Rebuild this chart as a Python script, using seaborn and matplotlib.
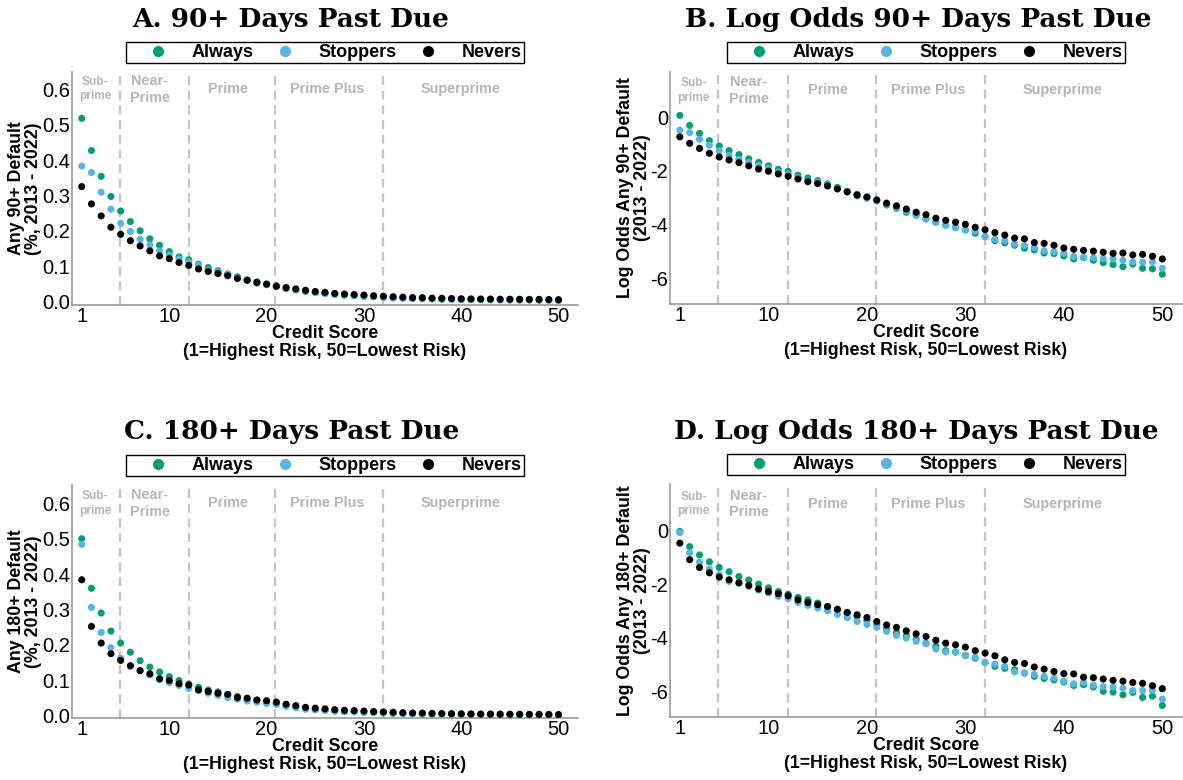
import numpy as np
import pandas as pd
import matplotlib
matplotlib.use("Agg")
import matplotlib.pyplot as plt
from matplotlib.lines import Line2D
import seaborn as sns

# ---------------- data ----------------
scores = list(range(1, 51))
groups = ["Always", "Stoppers", "Nevers"]

a_always = [0.518, 0.427, 0.354, 0.297, 0.256, 0.226, 0.200, 0.177, 0.159, 0.141,
            0.126, 0.118, 0.105, 0.096, 0.087, 0.078, 0.070, 0.061, 0.055, 0.049,
            0.044, 0.0366, 0.0326, 0.0282, 0.0253, 0.0221, 0.0196, 0.0176, 0.0161, 0.0148,
            0.0131, 0.0115, 0.0100, 0.0092, 0.0084, 0.0075, 0.0071, 0.0063, 0.0062, 0.0057,
            0.0051, 0.0053, 0.0048, 0.0044, 0.0041, 0.0038, 0.0042, 0.0036, 0.0035, 0.0029]
a_stoppers = [0.383, 0.365, 0.309, 0.261, 0.221, 0.198, 0.176, 0.160, 0.143, 0.131,
              0.120, 0.112, 0.102, 0.089, 0.083, 0.076, 0.067, 0.060, 0.051, 0.047,
              0.042, 0.0377, 0.0339, 0.0296, 0.0256, 0.0223, 0.0196, 0.0176, 0.0163, 0.0148,
              0.0142, 0.0115, 0.0105, 0.0100, 0.0088, 0.0083, 0.0077, 0.0069, 0.0066, 0.0063,
              0.0055, 0.0054, 0.0053, 0.0051, 0.0051, 0.0048, 0.0045, 0.0045, 0.0045, 0.0036]
a_nevers = [0.325, 0.276, 0.242, 0.210, 0.190, 0.172, 0.157, 0.143, 0.129, 0.121,
            0.110, 0.102, 0.092, 0.085, 0.079, 0.073, 0.065, 0.060, 0.054, 0.049,
            0.043, 0.0392, 0.0356, 0.0317, 0.0282, 0.0258, 0.0228, 0.0210, 0.0196, 0.0182,
            0.0163, 0.0149, 0.0134, 0.0123, 0.0110, 0.0107, 0.0093, 0.0090, 0.0084, 0.0076,
            0.0072, 0.0070, 0.0068, 0.0065, 0.0063, 0.0063, 0.0059, 0.0060, 0.0056, 0.0051]

b_always = [0.07, -0.30, -0.60, -0.87, -1.07, -1.24, -1.39, -1.55, -1.68, -1.81,
            -1.94, -2.02, -2.16, -2.26, -2.36, -2.48, -2.61, -2.77, -2.87, -2.99,
            -3.11, -3.27, -3.39, -3.54, -3.65, -3.79, -3.91, -4.02, -4.11, -4.20,
            -4.32, -4.45, -4.60, -4.68, -4.77, -4.88, -4.94, -5.06, -5.08, -5.17,
            -5.28, -5.23, -5.33, -5.42, -5.49, -5.57, -5.47, -5.63, -5.65, -5.85]
b_stoppers = [-0.48, -0.57, -0.82, -1.04, -1.25, -1.43, -1.57, -1.68, -1.80, -1.90,
              -2.04, -2.12, -2.25, -2.37, -2.42, -2.52, -2.65, -2.77, -2.93, -3.02,
              -3.12, -3.24, -3.35, -3.49, -3.64, -3.78, -3.91, -4.02, -4.10, -4.20,
              -4.24, -4.45, -4.55, -4.60, -4.72, -4.78, -4.86, -4.97, -5.01, -5.07,
              -5.19, -5.22, -5.24, -5.27, -5.28, -5.33, -5.39, -5.40, -5.39, -5.63]
b_nevers = [-0.73, -0.97, -1.16, -1.34, -1.48, -1.59, -1.69, -1.81, -1.93, -2.01,
            -2.11, -2.20, -2.30, -2.40, -2.47, -2.56, -2.67, -2.78, -2.90, -2.97,
            -3.08, -3.20, -3.30, -3.42, -3.54, -3.63, -3.76, -3.84, -3.91, -3.99,
            -4.10, -4.19, -4.30, -4.39, -4.50, -4.53, -4.67, -4.70, -4.77, -4.87,
            -4.92, -4.96, -4.99, -5.03, -5.07, -5.06, -5.13, -5.11, -5.18, -5.28]

c_always = [0.500, 0.360, 0.290, 0.239, 0.205, 0.179, 0.155, 0.137, 0.123, 0.110,
            0.099, 0.089, 0.080, 0.072, 0.067, 0.059, 0.054, 0.047, 0.043, 0.039,
            0.034, 0.0280, 0.0240, 0.0195, 0.0171, 0.0148, 0.0131, 0.0112, 0.0107, 0.0094,
            0.0085, 0.0072, 0.0063, 0.0058, 0.0055, 0.0049, 0.0043, 0.0040, 0.0038, 0.0035,
            0.0031, 0.0032, 0.0029, 0.0025, 0.0024, 0.0022, 0.0024, 0.0020, 0.0021, 0.0015]
c_stoppers = [0.484, 0.306, 0.235, 0.192, 0.162, 0.139, 0.127, 0.115, 0.102, 0.093,
              0.085, 0.077, 0.070, 0.063, 0.057, 0.051, 0.046, 0.041, 0.038, 0.034,
              0.031, 0.0260, 0.0220, 0.0178, 0.0158, 0.0145, 0.0119, 0.0107, 0.0106, 0.0094,
              0.0088, 0.0072, 0.0068, 0.0063, 0.0051, 0.0049, 0.0046, 0.0043, 0.0041, 0.0036,
              0.0033, 0.0034, 0.0031, 0.0030, 0.0029, 0.0028, 0.0026, 0.0026, 0.0026, 0.0019]
c_nevers = [0.384, 0.252, 0.205, 0.175, 0.156, 0.141, 0.127, 0.118, 0.104, 0.099,
            0.090, 0.086, 0.073, 0.068, 0.063, 0.060, 0.051, 0.049, 0.044, 0.042,
            0.038, 0.0320, 0.0280, 0.0232, 0.0208, 0.0189, 0.0165, 0.0148, 0.0139, 0.0127,
            0.0112, 0.0103, 0.0093, 0.0080, 0.0072, 0.0070, 0.0061, 0.0057, 0.0052, 0.0048,
            0.0047, 0.0042, 0.0041, 0.0039, 0.0037, 0.0036, 0.0034, 0.0033, 0.0031, 0.0027]

d_always = [-0.02, -0.59, -0.90, -1.16, -1.37, -1.53, -1.71, -1.84, -1.99, -2.13,
            -2.27, -2.37, -2.49, -2.58, -2.70, -2.83, -2.95, -3.08, -3.20, -3.35,
            -3.51, -3.67, -3.80, -3.92, -4.05, -4.20, -4.32, -4.48, -4.53, -4.66,
            -4.76, -4.92, -5.07, -5.14, -5.19, -5.32, -5.44, -5.52, -5.57, -5.65,
            -5.78, -5.75, -5.84, -6.00, -6.03, -6.13, -6.04, -6.23, -6.18, -6.53]
d_stoppers = [-0.07, -0.82, -1.17, -1.43, -1.64, -1.89, -1.97, -2.08, -2.22, -2.32,
              -2.45, -2.54, -2.68, -2.79, -2.89, -2.99, -3.13, -3.25, -3.39, -3.50,
              -3.61, -3.76, -3.91, -4.01, -4.13, -4.22, -4.42, -4.53, -4.54, -4.66,
              -4.72, -4.92, -4.98, -5.07, -5.27, -5.32, -5.37, -5.44, -5.50, -5.62,
              -5.72, -5.67, -5.77, -5.82, -5.84, -5.88, -5.97, -5.97, -5.97, -6.29]
d_nevers = [-0.46, -1.08, -1.37, -1.57, -1.73, -1.83, -1.94, -2.04, -2.17, -2.27,
            -2.35, -2.43, -2.58, -2.68, -2.76, -2.83, -2.93, -3.05, -3.14, -3.24,
            -3.39, -3.52, -3.61, -3.74, -3.85, -3.95, -4.09, -4.20, -4.26, -4.35,
            -4.48, -4.57, -4.67, -4.82, -4.92, -4.96, -5.09, -5.17, -5.26, -5.34,
            -5.35, -5.47, -5.49, -5.54, -5.59, -5.62, -5.67, -5.70, -5.79, -5.90]

region_cutoffs = [4.9, 12, 20.9, 32]
region_names = ["Sub-\nprime", "Near-\nPrime", "Prime", "Prime Plus", "Superprime"]
region_x = [2.4, 8.0, 16.0, 26.2, 39.9]

titles = ["A. 90+ Days Past Due", "B. Log Odds 90+ Days Past Due",
          "C. 180+ Days Past Due", "D. Log Odds 180+ Days Past Due"]
ylabels = ["Any 90+ Default\n(%, 2013 - 2022)", "Log Odds Any 90+ Default\n(2013 - 2022)",
           "Any 180+ Default\n(%, 2013 - 2022)", "Log Odds Any 180+ Default\n(2013 - 2022)"]
xlabel = "Credit Score\n(1=Highest Risk, 50=Lowest Risk)"
x_ticks = [1, 10, 20, 30, 40, 50]
pct_ticks = [0.0, 0.1, 0.2, 0.3, 0.4, 0.5, 0.6]
lo_ticks = [0, -2, -4, -6]

colors = {"Always": "#009E73", "Stoppers": "#56B4E9", "Nevers": "#000000"}

# ---------------- style ----------------
sns.set_theme(style="white")
plt.rcParams["font.family"] = ["Liberation Sans", "DejaVu Sans"]
plt.rcParams["axes.unicode_minus"] = False
plt.rcParams["text.color"] = "black"
plt.rcParams["axes.labelcolor"] = "black"

W, H = 1183, 780
fig = plt.figure(figsize=(W / 100, H / 100), dpi=100)


def frac(l, t, r, b):
    return [l / W, 1 - b / H, (r - l) / W, (b - t) / H]


panels = [
    dict(rect=frac(72, 71.7, 578, 305), series=[a_always, a_stoppers, a_nevers],
         ylim=(-0.01, 0.65), yt=pct_ticks, fmt="{:.1f}", lab_y=0.6, ylab_x=-0.093,
         title_xy=(291, 19)),
    dict(rect=frac(670, 71.7, 1182, 304), series=[b_always, b_stoppers, b_nevers],
         ylim=(-6.96, 1.7), yt=lo_ticks, fmt="{:d}", lab_y=1.0, ylab_x=-0.070,
         title_xy=(918, 19)),
    dict(rect=frac(72, 485, 578, 718), series=[c_always, c_stoppers, c_nevers],
         ylim=(-0.007, 0.652), yt=pct_ticks, fmt="{:.1f}", lab_y=0.6, ylab_x=-0.093,
         title_xy=(292, 432)),
    dict(rect=frac(670, 484, 1182, 717), series=[d_always, d_stoppers, d_nevers],
         ylim=(-6.96, 1.75), yt=lo_ticks, fmt="{:d}", lab_y=1.0, ylab_x=-0.070,
         title_xy=(916, 432)),
]

spine_col = "#9a9a9a"
region_col = "#b5b5b5"

for i, p in enumerate(panels):
    ax = fig.add_axes(p["rect"])
    df = pd.concat([pd.DataFrame({"score": scores, "value": vals, "group": g})
                    for g, vals in zip(groups, p["series"])], ignore_index=True)
    sns.scatterplot(data=df, x="score", y="value", hue="group", hue_order=groups,
                    palette=colors, s=26, linewidth=0, legend=False, ax=ax, zorder=3)
    for c in region_cutoffs:
        ax.axvline(c, color="#c4c4c4", lw=1.6, ls=(0, (4, 2.6)), zorder=1)
    for name, xx in zip(region_names, region_x):
        fs = 8.6 if name.startswith("Sub") else 10.4
        ax.text(xx, p["lab_y"], name, ha="center", va="center", fontsize=fs,
                fontweight="bold", color=region_col, linespacing=1.25, zorder=2)
    ax.set_xlim(0, 52)
    ax.set_ylim(*p["ylim"])
    ax.set_xticks(x_ticks)
    ax.set_xticklabels([str(t) for t in x_ticks])
    ax.set_yticks(p["yt"])
    ax.set_yticklabels([p["fmt"].format(t) for t in p["yt"]])
    ax.tick_params(axis="both", length=0, labelsize=14.5, colors="black", pad=1.5)
    ax.tick_params(axis="x", pad=1.5)
    for side in ["top", "right"]:
        ax.spines[side].set_visible(False)
    for side in ["left", "bottom"]:
        ax.spines[side].set_color(spine_col)
        ax.spines[side].set_linewidth(1.2)
    ax.set_xlabel(xlabel, fontsize=12.8, fontweight="bold", labelpad=-1, linespacing=1.1)
    ax.set_ylabel(ylabels[i], fontsize=12.8, fontweight="bold", linespacing=1.0)
    ax.yaxis.set_label_coords(p["ylab_x"], 0.5)
    ax.yaxis.label.set_verticalalignment("center")
    ax.grid(False)

    handles = [Line2D([], [], marker="o", ls="", markersize=8, color=colors[g],
                      markeredgewidth=0) for g in groups]
    leg = ax.legend(handles, groups, loc="lower center",
                    bbox_to_anchor=(0.5, 1.0 + 8.7 / 233), ncol=3, frameon=True,
                    fancybox=False, framealpha=1, edgecolor="black",
                    prop={"weight": "bold", "size": 13}, handlelength=3.3,
                    handletextpad=0.2, columnspacing=0.1, borderpad=0.12,
                    borderaxespad=0)
    leg.get_frame().set_linewidth(1.0)

    tx, ty = p["title_xy"]
    fig.text(tx / W, 1 - ty / H, titles[i], ha="center", va="center",
             fontsize=19, fontweight="bold", family="DejaVu Serif", color="black")

fig.savefig("out.png", dpi=100)
